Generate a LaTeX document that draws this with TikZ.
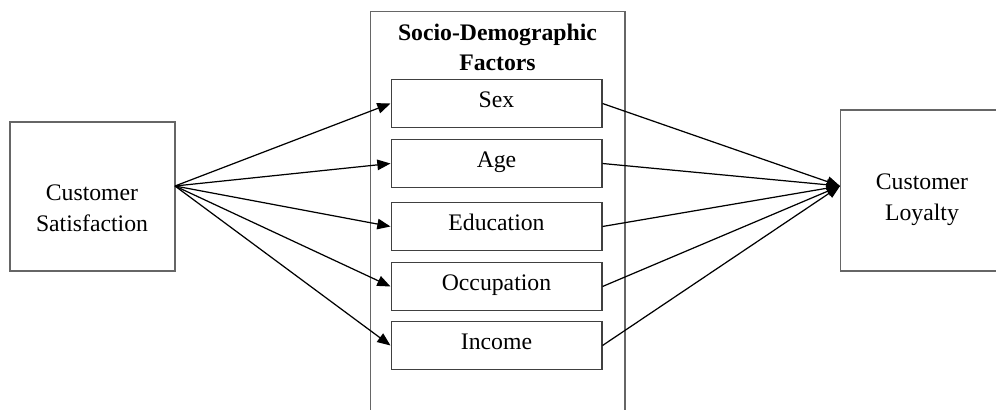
\documentclass[tikz,border=0pt]{standalone}
\usepackage{fontspec}
\setmainfont{Liberation Serif}
\usetikzlibrary{arrows.meta}

\begin{document}
\begin{tikzpicture}[x=0.02cm, y=-0.02cm,
		every node/.style={font=\fontsize{13.5}{17.5}\selectfont, align=center, inner sep=0pt},
		factor/.style={draw=black!75, line width=0.6pt, minimum width=4.22cm, minimum height=0.96cm, text height=9pt, text depth=4pt},
		bigbox/.style={draw=black!60, line width=0.6pt},
		link/.style={draw=black, line width=0.7pt, -{Triangle[length=7.5pt, width=6pt]}}]
				\useasboundingbox (0,0) rectangle (996,409);
				
				% outer frame around the factors
				\node[bigbox, minimum width=5.1cm, minimum height=8.2cm] (frame) at (497.5,216){};
				\node[font=\fontsize{13.5}{17}\selectfont\bfseries] (title) at (497.5,47){Socio-Demographic\\Factors};
				
				% the two end boxes, with their texts set a little lower
				\node[bigbox, minimum width=3.3cm, minimum height=2.98cm] (sat) at (92.5,196.5){};
				\node (satlabel) at (92,208){Customer\\Satisfaction};
				\node[bigbox, minimum width=3.28cm, minimum height=3.22cm] (loy) at (922,190.5){};
				\node (loylabel) at (922,200){Customer\\Loyalty};
				
				\node[factor] (sex) at (496.5,103.5){Sex};
				\node[factor] (age) at (496.5,163.5){Age};
				\node[factor] (edu) at (496.5,226.5){Education};
				\node[factor] (occ) at (496.5,286.5){Occupation};
				\node[factor] (inc) at (496.5,345.5){Income};
				
				\coordinate (src) at (175,186);
				\coordinate (dst) at (840,186);
				
				\path (src) edge[link] (sex.west);
				\path (src) edge[link] (age.west);
				\path (src) edge[link] (edu.west);
				\path (src) edge[link] (occ.west);
				\path (src) edge[link] (inc.west);
				
				\path (sex.east) edge[link] (dst);
				\path (age.east) edge[link] (dst);
				\path (edu.east) edge[link] (dst);
				\path (occ.east) edge[link] (dst);
				\path (inc.east) edge[link] (dst);
				\end{tikzpicture}
\end{document}
